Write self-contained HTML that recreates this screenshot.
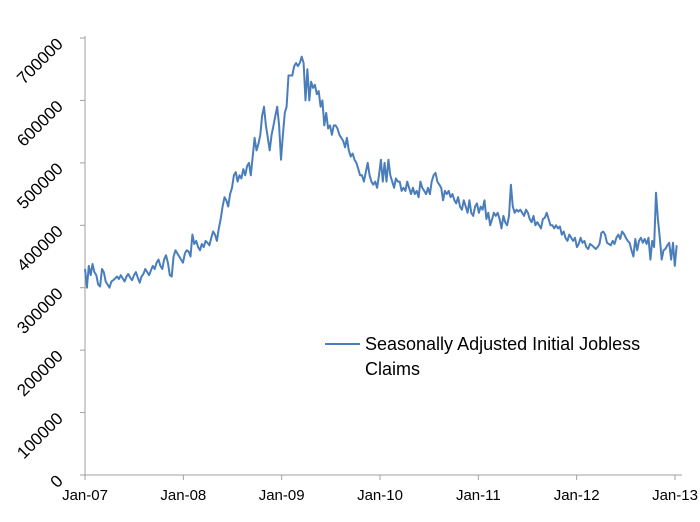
<!DOCTYPE html>
<html><head><meta charset="utf-8"><style>
html,body{margin:0;padding:0;background:#fff;}
svg{display:block;font-family:"Liberation Sans",sans-serif;}
</style></head><body>
<svg id="chart" width="700" height="522"></svg>
<script>
const xLabels=["Jan-07","Jan-08","Jan-09","Jan-10","Jan-11","Jan-12","Jan-13"];
const yTicks=[0,100000,200000,300000,400000,500000,600000,700000];
const y2007=[330,300,335,320,338,325,320,305,302,330,325,310,305,300,310,312,315,318,314,320,315,310,318,322,316,312,320,325,316,308,318,322,330,325,320,328,335,330,340,345,335,330,345,352,340,320,318,350,360,355,350,345];
const y2008=[340,355,360,358,350,385,370,375,365,360,370,365,375,372,368,380,390,385,375,395,410,430,445,440,430,450,460,480,485,470,480,475,490,480,495,500,480,510,540,520,530,545,575,590,560,540,520,545,560,575,590,560];
const y2009=[505,545,580,590,640,640,640,655,660,655,660,670,660,600,650,600,630,620,625,610,615,590,600,560,580,555,560,545,560,560,555,545,540,535,525,540,520,510,515,505,500,490,480,480,470,485,500,480,470,465,470,460];
const y2010=[480,505,470,500,470,505,480,470,460,475,470,470,455,460,455,470,460,450,460,450,455,445,470,460,455,450,460,450,470,480,484,470,465,460,440,455,450,455,445,450,440,435,445,430,425,440,430,420,440,420,415,430];
const y2011=[435,420,430,425,440,410,420,400,410,420,415,420,410,395,415,405,400,415,465,430,420,425,422,425,420,415,425,420,410,405,415,400,405,400,395,410,412,420,410,400,400,395,400,395,398,385,390,380,375,385,380,375];
const y2012=[380,365,370,380,372,375,365,362,370,368,365,362,365,370,388,390,385,372,370,368,375,370,380,385,378,390,386,380,375,372,360,350,378,360,375,380,372,378,370,380,345,375,365,452,410,380,345,360,362,368,372,345];
const y2013=[372,335,368];
const series=[].concat(y2007,y2008,y2009,y2010,y2011,y2012,y2013).map(v=>v*1000);

const svg=document.getElementById('chart');
const NS='http://www.w3.org/2000/svg';
const X0=85,X1=675,Y0=475,YT=38;
const yearW=(X1-X0)/6;
function xs(i){return X0+i*yearW/52.18;}
function ys(v){return Y0-(v/700000)*(Y0-YT);}
function mk(t,a){const e=document.createElementNS(NS,t);for(const k in a)e.setAttribute(k,a[k]);svg.appendChild(e);return e;}

const ax=mk('path',{d:`M${X0},${YT-2}V${Y0}H682`,stroke:'#a0a0a0',fill:'none','stroke-width':1});


yTicks.forEach(v=>{
  const y=ys(v);
  const t=mk('line',{x1:X0-5,x2:X0,y1:y,y2:y,stroke:'#a0a0a0'});
  
  
  const l=mk('text',{x:0,y:0,'font-size':17,'text-anchor':'end',fill:'#000',transform:`translate(64,${y+7}) rotate(-45)`});
  l.textContent=String(v);
  
  
});
xLabels.forEach((s,i)=>{
  const x=X0+i*yearW;
  const t=mk('line',{x1:x,x2:x,y1:Y0,y2:Y0+5,stroke:'#a0a0a0'});
  
  
  const l=mk('text',{x:x,y:500,'font-size':15,'text-anchor':'middle',fill:'#000'});
  l.textContent=s;
  
  
});
const d=series.map((v,i)=>(i?'L':'M')+xs(i).toFixed(1)+','+ys(v).toFixed(1)).join('');
const p=mk('path',{d:d,stroke:'#4a7ebb','stroke-width':2,fill:'none','stroke-linejoin':'round'});


const ll=mk('line',{x1:325,x2:360,y1:344,y2:344,stroke:'#4a7ebb','stroke-width':2});


const t1=mk('text',{x:365,y:350,'font-size':18,fill:'#000'});
t1.textContent='Seasonally Adjusted Initial Jobless';


const t2=mk('text',{x:365,y:375,'font-size':18,fill:'#000'});
t2.textContent='Claims';


</script>
</body></html>
